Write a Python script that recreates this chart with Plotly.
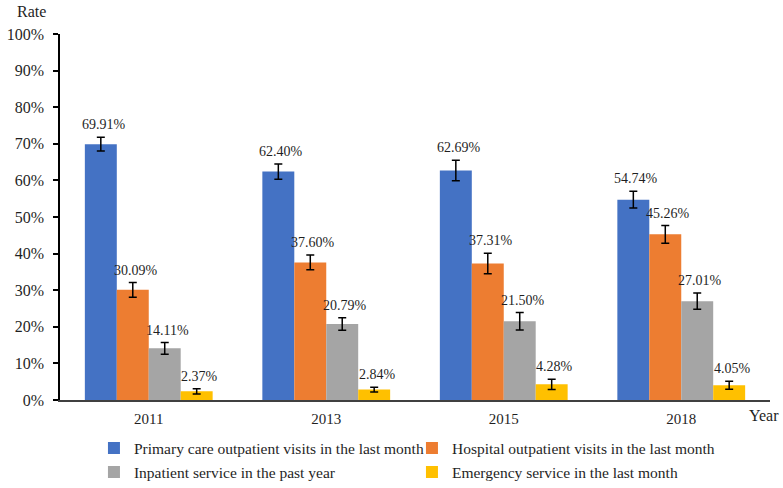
import plotly.graph_objects as go

years = ["2011", "2013", "2015", "2018"]
series_names = [
    "Primary care outpatient visits in the last month",
    "Hospital outpatient visits in the last month",
    "Inpatient service in the past year",
    "Emergency service in the last month",
]
primary_care = [69.91, 62.40, 62.69, 54.74]
hospital_outpatient = [30.09, 37.60, 37.31, 45.26]
inpatient = [14.11, 20.79, 21.50, 27.01]
emergency = [2.37, 2.84, 4.28, 4.05]

primary_care_err = [1.9, 2.1, 2.8, 2.3]
hospital_outpatient_err = [2.0, 2.0, 2.8, 2.4]
inpatient_err = [1.6, 1.7, 2.4, 2.2]
emergency_err = [0.7, 0.65, 1.4, 1.1]

y_ticks = [0, 10, 20, 30, 40, 50, 60, 70, 80, 90, 100]

colors = ["#4472C4", "#ED7D31", "#A5A5A5", "#FFC000"]
values = [primary_care, hospital_outpatient, inpatient, emergency]
errors = [primary_care_err, hospital_outpatient_err, inpatient_err, emergency_err]
legend_ids = ["legend", "legend", "legend2", "legend2"]

FONT = "Liberation Serif"
TXT = "#1f1f1f"
bargap = 0.28
xpos = list(range(len(years)))

fig = go.Figure()
for name, vals, errs, col, lg in zip(series_names, values, errors, colors, legend_ids):
    fig.add_trace(go.Bar(
        x=xpos, y=vals, name=name, legend=lg,
        marker=dict(color=col, line=dict(width=0)),
        error_y=dict(type="data", array=errs, visible=True,
                     color="black", thickness=1.5, width=4),
    ))

n = len(series_names)
w = (1 - bargap) / n
annotations = []
for k, (vals, errs) in enumerate(zip(values, errors)):
    for i, (v, e) in enumerate(zip(vals, errs)):
        annotations.append(dict(
            x=i + (k - (n - 1) / 2) * w, y=v + e, xref="x", yref="y",
            text=f"{v:.2f}%", showarrow=False, yanchor="bottom",
            xshift=3, yshift=3,
            font=dict(family=FONT, size=14, color=TXT),
        ))
annotations.append(dict(x=0, xref="paper", xanchor="right", xshift=-12,
                        y=1, yref="paper", yanchor="bottom", yshift=12,
                        text="Rate", showarrow=False,
                        font=dict(family=FONT, size=16, color=TXT)))
annotations.append(dict(x=1, xref="paper", xanchor="center", xshift=-6,
                        y=0, yref="paper", yanchor="top", yshift=-5,
                        text="Year", showarrow=False,
                        font=dict(family=FONT, size=16, color=TXT)))

legend_common = dict(orientation="h", xanchor="left", yanchor="middle",
                     xref="container", yref="container",
                     entrywidth=273, entrywidthmode="pixels",
                     font=dict(family=FONT, size=15.5, color=TXT),
                     traceorder="normal", bgcolor="rgba(0,0,0,0)")

fig.update_layout(
    width=783, height=488,
    margin=dict(l=60, r=13, t=34, b=88, autoexpand=False),
    paper_bgcolor="white", plot_bgcolor="white",
    barmode="group", bargap=bargap, bargroupgap=0,
    font=dict(family=FONT, size=15, color=TXT),
    showlegend=True,
    legend=dict(x=0.12, y=0.081, **legend_common),
    legend2=dict(x=0.12, y=0.032, **legend_common),
    annotations=annotations,
)
fig.update_xaxes(
    range=[-0.5, len(years) - 0.5], tickvals=xpos, ticktext=years,
    showline=True, linecolor="#404040", linewidth=1.5,
    ticks="", showgrid=False, zeroline=False, ticklabelstandoff=4,
    tickfont=dict(family=FONT, size=15, color=TXT), automargin=False,
)
fig.update_yaxes(
    range=[0, 100], tickvals=y_ticks, ticktext=[f"{t}%" for t in y_ticks],
    showline=True, linecolor="black", linewidth=1.5,
    ticks="outside", ticklen=5, tickcolor="black", tickwidth=1.5,
    showgrid=False, zeroline=False, ticklabelstandoff=6,
    tickfont=dict(family=FONT, size=16, color=TXT), automargin=False,
)

fig.write_html("out.html", config={"displayModeBar": False},
               post_script="document.body.style.margin='0';document.body.style.padding='0';")
